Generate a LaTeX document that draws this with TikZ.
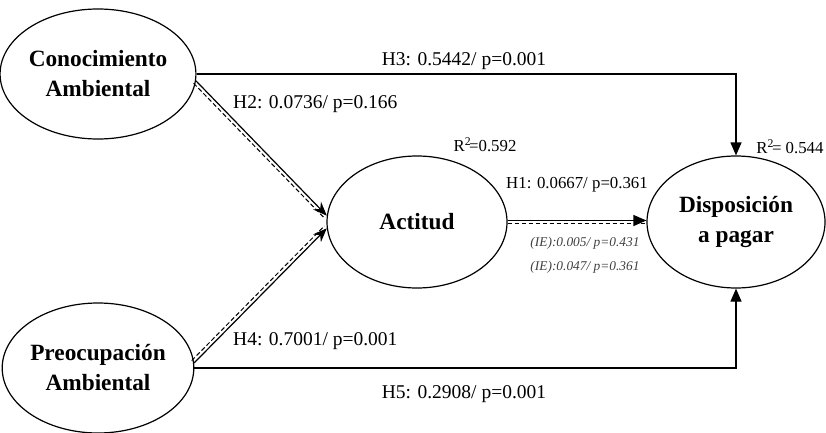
\documentclass[tikz,border=0pt]{standalone}
\usepackage{fontspec}
\setmainfont{Liberation Serif}
\usetikzlibrary{shapes.geometric,arrows.meta,calc}
\begin{document}
\begin{tikzpicture}[x=1pt,y=-1pt,
  latent/.style={draw,ellipse,line width=1.2pt,inner sep=0pt,align=center,
    font=\fontsize{23.3}{30}\selectfont\bfseries},
  lbl/.style={inner sep=0pt,font=\fontsize{19.5}{23}\selectfont},
  slbl/.style={inner sep=0pt,font=\fontsize{16.8}{20}\selectfont},
  ie/.style={inner sep=0pt,font=\fontsize{13.4}{16}\selectfont\itshape,text=black!75},
  pathar/.style={line width=1.2pt,-{Triangle[length=13pt,width=11pt]}},
  dblar/.style={line width=1.2pt,-{Stealth[length=14pt,width=11pt]}},
  dsh/.style={line width=1pt,dash pattern=on 4.5pt off 2.5pt}]
\useasboundingbox (0,0) rectangle (826,433);

\node[latent,minimum width=182pt,minimum height=130pt] (con) at (98,74) {Conocimiento\\Ambiental};
\node[latent,minimum width=182pt,minimum height=130pt] (pre) at (98,368) {Preocupación\\Ambiental};
\node[latent,minimum width=180pt,minimum height=132pt] (act) at (417,222) {Actitud};
\node[latent,minimum width=178pt,minimum height=132pt] (dis) at (736,222) {Disposición\\a pagar};

% H3 and H5
\draw[pathar] (con.east) -| (dis.north);
\draw[pathar] (pre.east) -| (dis.south);

% H2 double
\coordinate (h2s) at (con.-4);
\coordinate (h2e) at (act.176);
\draw[dblar] (h2s) -- (h2e);
\draw[dsh] ($(h2s)!3.4pt!-90:(h2e)$) -- ($(h2e)!3.4pt!90:(h2s)$);

% H4 double
\coordinate (h4s) at (pre.3);
\coordinate (h4e) at (act.184);
\draw[dblar] (h4s) -- (h4e);
\draw[dsh] ($(h4s)!3.4pt!90:(h4e)$) -- ($(h4e)!3.4pt!-90:(h4s)$);

% H1 double
\coordinate (h1s) at ([yshift=1.5pt]act.east);
\coordinate (h1e) at ([yshift=1.5pt]dis.west);
\draw[pathar] (h1s) -- (h1e);
\draw[dsh] ($(h1s)!3.4pt!-90:(h1e)$) -- ($(h1e)!3.4pt!90:(h1s)$);

% labels
\node[lbl] (l3) at (464,61) {H3: 0.5442/ p=0.001};
\node[lbl,anchor=west] (l2) at (233,104) {H2: 0.0736/ p=0.166};
\node[slbl] (r1) at (485,145) {R\textsuperscript{2}\kern-2pt=0.592};
\node[slbl] (l1) at (577,185) {H1: 0.0667/ p=0.361};
\node[ie] (ie1) at (585,243) {(IE):0.005/ p=0.431};
\node[ie] (ie2) at (585,267) {(IE):0.047/ p=0.361};
\node[slbl] (r2) at (790,147) {R\textsuperscript{2}\kern-2pt= 0.544};
\node[lbl,anchor=west] (l4) at (233,341) {H4: 0.7001/ p=0.001};
\node[lbl] (l5) at (464,394) {H5: 0.2908/ p=0.001};
\end{tikzpicture}
\end{document}
